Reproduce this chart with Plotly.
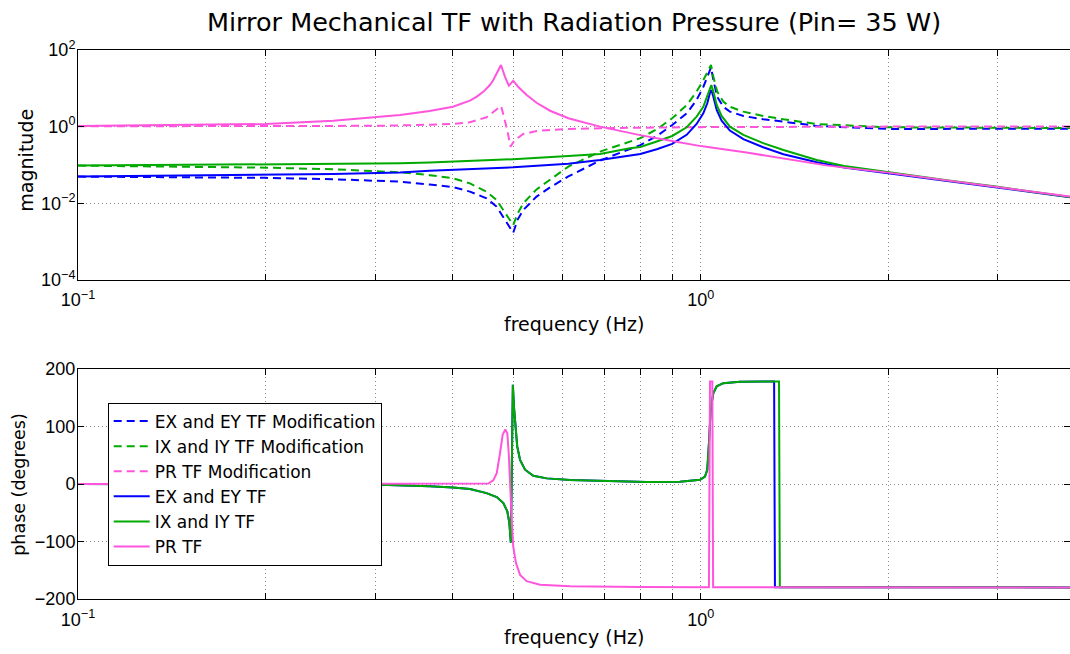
import plotly.graph_objects as go

# ---------------- data ----------------
# Magnitude panel (frequency in Hz, magnitude)
f_ex_mod = [0.1, 0.157, 0.2, 0.257, 0.305, 0.33, 0.367, 0.4, 0.426, 0.453, 0.470, 0.485, 0.5, 0.508,
            0.519, 0.545, 0.573, 0.613, 0.689, 0.8, 0.85, 0.9, 0.95, 0.985, 1.01, 1.025, 1.039, 1.048,
            1.063, 1.087, 1.114, 1.171, 1.26, 1.358, 1.536, 2.0, 3.0, 3.92]
m_ex_mod = [0.0497, 0.048, 0.046, 0.0424, 0.039, 0.0365, 0.0307, 0.0265, 0.0201, 0.0135, 0.0082, 0.0037,
            0.0017, 0.0037, 0.0067, 0.0149, 0.0261, 0.05, 0.13, 0.33, 0.57, 1.1, 2.23, 4.97, 11, 20, 35,
            16.5, 6.0, 3.3, 2.46, 1.9, 1.55, 1.35, 1.04, 0.87, 0.86, 0.88]

f_ix_mod = [0.1, 0.157, 0.2, 0.257, 0.305, 0.33, 0.367, 0.4, 0.426, 0.453, 0.470, 0.485, 0.5, 0.508,
            0.519, 0.545, 0.573, 0.613, 0.689, 0.8, 0.85, 0.9, 0.95, 0.985, 1.01, 1.025, 1.039, 1.048,
            1.063, 1.087, 1.114, 1.171, 1.26, 1.358, 1.536, 2.0, 3.0, 3.92]
m_ix_mod = [0.096, 0.0905, 0.085, 0.077, 0.069, 0.064, 0.054, 0.045, 0.033, 0.020, 0.0122, 0.0055,
            0.0027, 0.0053, 0.010, 0.023, 0.042, 0.0905, 0.223, 0.5, 0.85, 1.65, 3.67, 8.2, 16.5, 27,
            40.5, 20, 8.2, 4.5, 3.3, 2.46, 1.9, 1.55, 1.17, 0.96, 0.92, 0.92]

f_pr_mod = [0.1, 0.2, 0.305, 0.367, 0.4, 0.426, 0.453, 0.470, 0.478, 0.483, 0.489, 0.495, 0.503,
            0.519, 0.545, 0.573, 0.613, 0.724, 1.0, 2.0, 3.92]
m_pr_mod = [1.02, 1.03, 1.05, 1.12, 1.17, 1.3, 1.75, 2.8, 3.46, 1.82, 0.82, 0.30, 0.45,
            0.64, 0.77, 0.82, 0.87, 0.92, 0.97, 1.0, 1.0]

f_ex = [0.1, 0.157, 0.257, 0.329, 0.367, 0.5, 0.613, 0.689, 0.77, 0.8, 0.85, 0.9, 0.9495, 0.985,
        1.0097, 1.0247, 1.035, 1.040, 1.048, 1.061, 1.0805, 1.114, 1.171, 1.26, 1.358, 1.45, 1.536,
        1.7, 2.0, 2.5, 3.0, 3.92]
m_ex = [0.0497, 0.0527, 0.0583, 0.063, 0.071, 0.087, 0.108, 0.135, 0.172, 0.194, 0.257, 0.353, 0.61,
        1.17, 2.23, 4.06, 7.7, 9.05, 6.0, 2.72, 1.43, 0.79, 0.47, 0.29, 0.19, 0.145, 0.117,
        0.086, 0.061, 0.038, 0.026, 0.0144]

f_ix = [0.1, 0.157, 0.257, 0.329, 0.367, 0.5, 0.613, 0.689, 0.77, 0.8, 0.85, 0.9, 0.9495, 0.985,
        1.0097, 1.0247, 1.035, 1.040, 1.048, 1.061, 1.0805, 1.114, 1.171, 1.26, 1.358, 1.45, 1.536,
        1.7, 2.0, 2.5, 3.0, 3.92]
m_ix = [0.096, 0.1, 0.106, 0.11, 0.115, 0.141, 0.172, 0.194, 0.272, 0.295, 0.41, 0.57, 0.96,
        1.82, 3.3, 6.7, 10.5, 12.2, 8.2, 3.67, 1.9, 1.0, 0.61, 0.37, 0.245, 0.175, 0.135,
        0.094, 0.064, 0.039, 0.0268, 0.0146]

f_pr = [0.1, 0.157, 0.2, 0.257, 0.305, 0.329, 0.367, 0.4, 0.426, 0.437, 0.448, 0.4587, 0.4645, 0.473,
        0.4778, 0.485, 0.492, 0.5, 0.509, 0.5255, 0.545, 0.573, 0.613, 0.689, 0.799, 0.9, 1.0, 1.185,
        1.358, 1.6, 2.0, 2.5, 3.0, 3.92]
m_pr = [1.04, 1.1, 1.17, 1.43, 1.75, 2.0, 2.57, 3.32, 4.77, 6.1, 8.2, 12.2, 16.5, 30,
        40.7, 20, 11.7, 15.8, 11, 6.7, 4.2, 2.6, 1.66, 1.0, 0.6, 0.42, 0.31, 0.21,
        0.149, 0.096, 0.063, 0.039, 0.0272, 0.0149]

# Phase panel (frequency in Hz, degrees)
f_ex_ph = [0.1, 0.2, 0.305, 0.367, 0.4, 0.426, 0.453, 0.4704, 0.482, 0.4892, 0.4929, 0.4956, 0.4993,
           0.5013, 0.5037, 0.5074, 0.5128, 0.5223, 0.5386, 0.5658, 0.617, 0.7, 0.819, 0.926, 0.9974,
           1.016, 1.0247, 1.031, 1.0377, 1.0476, 1.061, 1.087, 1.156, 1.30, 1.312, 1.316, 2.0, 3.92]
p_ex = [0.0, -0.5, -1.2, -4, -5.8, -8.7, -15.7, -22.6, -33, -47.5, -68, -102, 172.8,
        135, 100, 65.5, 42, 25, 14.5, 9.9, 7, 5, 3.5, 4, 7.5,
        13, 25, 71, 129, 158, 170, 175.6, 178, 178.5, 178.6, -179.6, -179.7, -179.8]

f_ix_ph = [0.1, 0.2, 0.305, 0.367, 0.4, 0.426, 0.453, 0.4704, 0.482, 0.4892, 0.4929, 0.4956, 0.4993,
           0.5013, 0.5037, 0.5074, 0.5128, 0.5223, 0.5386, 0.5658, 0.617, 0.7, 0.819, 0.926, 0.9974,
           1.016, 1.0247, 1.031, 1.0377, 1.0476, 1.061, 1.087, 1.156, 1.30, 1.336, 1.340, 2.0, 3.92]
p_ix = [0.0, -0.5, -1.2, -4, -5.8, -8.7, -15.7, -22.6, -33, -47.5, -68, -102, 172.8,
        135, 100, 65.5, 42, 25, 14.5, 9.9, 7, 5, 3.5, 4, 7.5,
        13, 25, 71, 129, 158, 170, 175.6, 178, 178.5, 178.6, -179.6, -179.7, -179.8]

f_pr_ph = [0.1, 0.3, 0.4, 0.456, 0.4644, 0.4704, 0.4762, 0.4809, 0.4856, 0.4892, 0.4917, 0.4941,
           0.4972, 0.5, 0.505, 0.5128, 0.5255, 0.552, 0.617, 0.8, 1.0, 1.031, 1.035, 1.044, 1.047,
           2.0, 3.92]
p_pr = [0.0, 0.0, 0.3, 1, 6.4, 19, 54, 86, 95, 88, 54, -4,
        -62, -109, -137, -158, -169, -175, -178, -179, -179.5, -179.7, 178.6, 178.6, -179.7,
        -179.8, -179.8]

names = ["EX and EY TF Modification", "IX and IY TF Modification", "PR TF Modification",
         "EX and EY TF", "IX and IY TF", "PR TF"]

# ---------------- styling ----------------
BLUE = "#0000ff"
GREEN = "#00aa00"
PINK = "#ff55dd"
FONT = "Liberation Sans, Arial, Helvetica, sans-serif"
TFONT = "DejaVu Sans, Liberation Sans, sans-serif"
W, H = 1070, 654
L, R, T, B = 78, 0, 50, 54.7
top_px = (50, 280)
bot_px = (369.3, 599.3)
ph = H - T - B


def yfrac(py):
    return (H - B - py) / ph


def xfrac(px):
    return (px - L) / (W - L - R)


fig = go.Figure()
LW = 2
DASH = "8px,5px"

top_series = [
    (f_ex_mod, m_ex_mod, BLUE, DASH, names[0]),
    (f_ix_mod, m_ix_mod, GREEN, DASH, names[1]),
    (f_pr_mod, m_pr_mod, PINK, DASH, names[2]),
    (f_ex, m_ex, BLUE, "solid", names[3]),
    (f_ix, m_ix, GREEN, "solid", names[4]),
    (f_pr, m_pr, PINK, "solid", names[5]),
]
for i, (fx, fy, col, dash, nm) in enumerate(top_series):
    fig.add_trace(go.Scatter(x=fx, y=fy, mode="lines", name=nm,
                             line=dict(color=col, width=LW, dash=dash),
                             xaxis="x", yaxis="y", hoverinfo="skip"))

bot_series = [
    (f_ex_ph, p_ex, BLUE),
    (f_ix_ph, p_ix, GREEN),
    (f_pr_ph, p_pr, PINK),
]
for fx, fy, col in bot_series:
    fig.add_trace(go.Scatter(x=fx, y=fy, mode="lines", showlegend=False,
                             line=dict(color=col, width=LW),
                             xaxis="x2", yaxis="y2", hoverinfo="skip"))

xt_vals = [0.1, 0.2, 0.3, 0.4, 0.5, 0.6, 0.7, 0.8, 0.9, 1, 2, 3]
xt_text = ["10<sup>\u22121</sup>", "", "", "", "", "", "", "", "", "10<sup>0</sup>", "", ""]

common_x = dict(type="log", range=[-1, 0.5931], tickvals=xt_vals, ticktext=xt_text,
                ticks="inside", ticklen=6, tickcolor="black", showline=True, linecolor="black",
                linewidth=1, mirror="ticks", showgrid=True, gridcolor="#8c8c8c", griddash="1px,3px",
                gridwidth=1, zeroline=False, tickfont=dict(size=18, color="black", family=FONT),
                ticklabelstandoff=4, domain=[0, 1])
common_y = dict(ticks="inside", ticklen=6, tickcolor="black", showline=True, linecolor="black",
                linewidth=1, mirror="ticks", showgrid=True, gridcolor="#8c8c8c", griddash="1px,3px",
                gridwidth=1, zeroline=False, tickfont=dict(size=18, color="black", family=FONT),
                ticklabelstandoff=-2)

fig.update_layout(
    width=W, height=H,
    margin=dict(l=L, r=R, t=T, b=B, pad=0),
    paper_bgcolor="white", plot_bgcolor="white",
    font=dict(family=FONT, color="black"),
    title=dict(text="Mirror Mechanical TF with Radiation Pressure (Pin= 35 W)",
               x=0.5, xref="paper", xanchor="center", y=1 - 22 / H, yref="container",
               yanchor="middle", font=dict(size=25.5, family=TFONT, color="black")),
    xaxis=dict(anchor="y", **common_x),
    yaxis=dict(anchor="x", type="log", range=[-4, 2],
               tickvals=[1e-4, 1e-2, 1, 1e2],
               ticktext=["10<sup>\u22124</sup>", "10<sup>\u22122</sup>", "10<sup>0</sup>", "10<sup>2</sup>"],
               domain=[yfrac(top_px[1]), yfrac(top_px[0])], **common_y),
    xaxis2=dict(anchor="y2", **common_x),
    yaxis2=dict(anchor="x2", range=[-200, 200], tickvals=[-200, -100, 0, 100, 200],
                domain=[yfrac(bot_px[1]), yfrac(bot_px[0])], **common_y),
    legend=dict(x=xfrac(107.7), y=yfrac(402.7), xanchor="left", yanchor="top",
                bgcolor="white", bordercolor="black", borderwidth=1,
                font=dict(size=17, family=TFONT, color="black"),
                traceorder="normal", itemwidth=36),
    showlegend=True,
)

ann_font = dict(size=19, family=TFONT, color="black")
fig.add_annotation(text="magnitude", x=xfrac(25.7), y=yfrac(160), xref="paper", yref="paper",
                   textangle=-90, showarrow=False, font=ann_font, xanchor="center", yanchor="middle")
fig.add_annotation(text="phase (degrees)", x=xfrac(19), y=yfrac(485), xref="paper", yref="paper",
                   textangle=-90, showarrow=False, font=dict(size=17.5, family=TFONT, color="black"),
                   xanchor="center", yanchor="middle")
fig.add_annotation(text="frequency (Hz)", x=0.5, y=yfrac(324), xref="paper", yref="paper",
                   showarrow=False, font=ann_font, xanchor="center", yanchor="middle")
fig.add_annotation(text="frequency (Hz)", x=0.5, y=yfrac(637), xref="paper", yref="paper",
                   showarrow=False, font=ann_font, xanchor="center", yanchor="middle")

fig.write_html("out.html", config={"displayModeBar": False, "responsive": False},
               post_script="document.body.style.margin='0';")
